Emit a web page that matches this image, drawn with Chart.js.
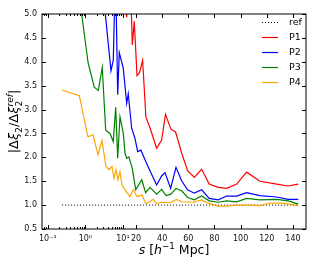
<!DOCTYPE html>
<html>
<head>
<meta charset="utf-8">
<script src="https://cdn.jsdelivr.net/npm/chart.js@4.4.0/dist/chart.umd.min.js"></script>
<style>
html,body{margin:0;padding:0;background:#fff}
canvas{display:block}
</style>
</head>
<body>
<canvas id="chart" width="316" height="264"></canvas>
<script>
// s values [h^-1 Mpc] and ratios
const sRef=[0.24,144.1]
const yRef=[1.0,1.0]

const sP1=[11.2,12.9,15.0,17.2,18.7,20.8,22.7,25.1,27.6,30.7,35.8,39.6,42.6,46.7,50.3,54.9,59.5,64.6,70.2,76.0,82.9,89.3,97.0,104.6,114.8,127.6,136.2,144.1]
const yP1=[5.4,4.93,6.5,4.35,4.85,3.71,3.77,4.03,2.84,2.62,2.19,2.36,2.90,2.59,2.53,2.09,1.72,1.58,1.75,1.44,1.37,1.35,1.44,1.69,1.50,1.44,1.40,1.44]

const sP2=[2.77,4.82,5.55,6.35,7.27,8.02,10.3,12.9,14.1,16.7,19.2,21.3,23.8,26.9,30.7,35.8,39.6,42.2,46.5,50.6,54.9,59.4,64.6,70.2,76.0,82.9,89.3,97.0,104.6,114.8,127.6,136.2,144.1]
const yP2=[5.7,3.81,4.04,6.0,3.31,4.19,3.86,3.13,3.33,2.61,2.40,2.12,2.15,1.95,1.72,1.42,1.61,1.68,1.35,1.79,1.51,1.32,1.25,1.32,1.14,1.11,1.19,1.19,1.26,1.20,1.17,1.12,1.12]

const sP3=[0.69,1.19,1.73,2.21,2.82,3.48,4.53,5.55,6.43,7.27,8.37,10.3,11.6,12.9,14.6,17.2,19.8,24.4,27.4,30.7,35.8,39.6,43.0,46.7,50.6,54.9,59.5,64.6,70.2,76.0,82.9,89.3,97.0,104.6,114.8,127.6,136.4,144.1]
const yP3=[5.37,3.97,3.47,3.40,3.88,2.57,2.50,2.33,3.05,1.98,2.85,2.50,2.09,1.98,2.01,1.77,1.32,1.53,1.26,1.37,1.23,1.33,1.20,1.23,1.35,1.30,1.16,1.11,1.19,1.09,1.06,1.09,1.07,1.14,1.11,1.12,1.09,1.02]

const sP4=[0.24,0.69,1.17,1.60,2.17,2.77,3.54,4.26,5.12,5.79,6.55,7.40,8.37,9.46,11.6,15.4,17.9,20.8,24.6,27.6,30.7,33.2,35.8,39.6,46.0,51.1,54.9,63.8,70.2,75.3,82.9,89.3,97.0,104.6,114.8,122.4,132.6,144.1]
const yP4=[3.41,3.29,2.43,2.47,2.05,2.35,1.81,1.74,1.81,1.56,1.74,1.53,1.70,1.42,1.32,1.18,1.32,1.18,1.21,1.03,1.07,1.12,1.03,1.06,1.05,1.12,1.07,1.06,1.11,1.04,0.98,0.98,1.00,1.00,0.99,1.04,1.04,0.99]

const xTicks=[0.1,1,10,20,40,60,80,100,120,140]
const xMinor=[0.08,0.09,0.2,0.3,0.4,0.5,0.6,0.7,0.8,0.9,2,3,4,5,6,7,8,9]
const xTickText={0.1:"10\u207B\u00B9",1:"10\u2070",10:"10\u00B9"}

const FONT="DejaVu Sans"

// log below s=10, linear above (units per decade on the linear side)
const DECADE=28.7
function fwd(s){
return s>=10 ? s : 10+DECADE*Math.log10(s/10)
}
function inv(u){
return u>=10 ? u : 10*Math.pow(10,(u-10)/DECADE)
}

class SplitScale extends Chart.Scale{
static id="split"
static defaults={}
determineDataLimits(){
this.min=this.options.min
this.max=this.options.max
}
buildTicks(){
return xTicks.map(v=>({value:v}))
}
getLabelForValue(v){
return String(v)
}
getPixelForValue(v){
const a=fwd(this.min),b=fwd(this.max)
return this.getPixelForDecimal((fwd(v)-a)/(b-a))
}
getValueForPixel(p){
const a=fwd(this.min),b=fwd(this.max)
return inv(a+this.getDecimalForPixel(p)*(b-a))
}
}
Chart.register(SplitScale)

function pts(s,y){
return s.map((v,i)=>({x:v,y:y[i]}))
}

function drawRuns(ctx,runs,size,x0,y0){
// measure first, then draw centred on x0
let total=0,pend=0
runs.forEach(r=>{
ctx.font=(r.it?"italic ":"")+(size*(r.sc||1))+"px "+FONT
r.w=ctx.measureText(r.t).width
if(r.stay){pend=r.w}else{total+=Math.max(r.w,pend);pend=0}
})
let x=x0-total/2
pend=0
runs.forEach(r=>{
ctx.font=(r.it?"italic ":"")+(size*(r.sc||1))+"px "+FONT
ctx.fillText(r.t,x,y0+(r.dy||0)*size)
if(r.stay){pend=r.w}else{x+=Math.max(r.w,pend);pend=0}
})
}

const framePlugin={
id:"frame",
afterDraw(chart){
const ctx=chart.ctx,a=chart.chartArea
const xs=chart.scales.x,ys=chart.scales.y
ctx.save()
ctx.strokeStyle="#000"
ctx.lineWidth=1
ctx.beginPath()
xTicks.forEach(v=>{
const p=Math.round(xs.getPixelForValue(v))+0.5
ctx.moveTo(p,a.bottom);ctx.lineTo(p,a.bottom-4)
ctx.moveTo(p,a.top);ctx.lineTo(p,a.top+4)
})
xMinor.forEach(v=>{
const p=Math.round(xs.getPixelForValue(v))+0.5
ctx.moveTo(p,a.bottom);ctx.lineTo(p,a.bottom-2)
ctx.moveTo(p,a.top);ctx.lineTo(p,a.top+2)
})
ys.ticks.forEach(t=>{
const p=Math.round(ys.getPixelForValue(t.value))+0.5
ctx.moveTo(a.left,p);ctx.lineTo(a.left+4,p)
ctx.moveTo(a.right,p);ctx.lineTo(a.right-4,p)
})
ctx.stroke()
ctx.strokeRect(a.left,a.top,a.right-a.left,a.bottom-a.top)

// legend, no frame, top right inside the axes
ctx.font="9.5px "+FONT
ctx.textBaseline="middle"
ctx.fillStyle="#000"
chart.data.datasets.forEach((d,i)=>{
const y=Math.round(a.top+8+i*15)+0.5
ctx.strokeStyle=d.borderColor
ctx.lineWidth=d.borderWidth
ctx.setLineDash(d.borderDash||[])
ctx.beginPath()
ctx.moveTo(a.right-44,y);ctx.lineTo(a.right-28,y)
ctx.stroke()
ctx.setLineDash([])
ctx.fillText(d.label,a.right-17,y)
})

// axis titles
ctx.textBaseline="alphabetic"
ctx.fillStyle="#000"
drawRuns(ctx,[
{t:"s",it:1},{t:" ["},{t:"h",it:1},{t:"\u22121",sc:0.7,dy:-0.4},{t:" Mpc]"}
],12.5,(a.left+a.right)/2,254)

ctx.translate(18,(a.top+a.bottom)/2)
ctx.rotate(-Math.PI/2)
drawRuns(ctx,[
{t:"|"},{t:"\u0394"},{t:"\u03BE",it:1},{t:"2",sc:0.7,dy:0.28},{t:"/"},
{t:"\u0394"},{t:"\u03BE",it:1},{t:"2",sc:0.7,dy:0.28,stay:1},{t:"ref",it:1,sc:0.7,dy:-0.42},{t:"|"}
],13,0,0)
ctx.restore()
}
}

const chart=new Chart(document.getElementById("chart"),{
type:"line",
data:{
datasets:[
{label:"ref",data:pts(sRef,yRef),borderColor:"#000",borderWidth:1,borderDash:[1,2],order:5},
{label:"P1",data:pts(sP1,yP1),borderColor:"#ff0000",borderWidth:1.2,order:4},
{label:"P2",data:pts(sP2,yP2),borderColor:"#0000ff",borderWidth:1.2,order:3},
{label:"P3",data:pts(sP3,yP3),borderColor:"#008000",borderWidth:1.2,order:2},
{label:"P4",data:pts(sP4,yP4),borderColor:"#ffa500",borderWidth:1.2,order:1}
]
},
options:{
responsive:false,
animation:false,
events:[],
layout:{padding:{top:14,right:10,left:0,bottom:0}},
elements:{point:{radius:0},line:{tension:0}},
plugins:{legend:{display:false},tooltip:{enabled:false}},
scales:{
x:{
type:"split",
min:0.07,
max:150,
grid:{display:false,drawTicks:false},
border:{display:false},
afterFit(s){s.height=35},
ticks:{
autoSkip:false,
maxRotation:0,
padding:5,
color:"#111",
font:{family:FONT,size:8},
callback:v=>xTickText[v]||String(v)
}
},
y:{
type:"linear",
min:0.5,
max:5,
grid:{display:false,drawTicks:false},
border:{display:false},
afterFit(s){s.width=42},
ticks:{
stepSize:0.5,
padding:5,
color:"#111",
font:{family:FONT,size:8},
callback:v=>v.toFixed(1)
}
}
}
},
plugins:[framePlugin]
})
</script>
</body>
</html>
